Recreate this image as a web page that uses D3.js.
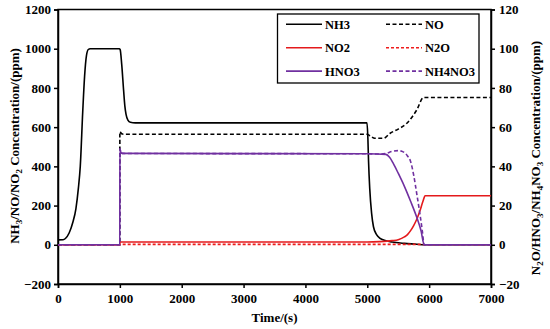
<!DOCTYPE html>
<html>
<head>
<meta charset="utf-8">
<script src="https://cdn.jsdelivr.net/npm/d3@7"></script>
<style>
  body { margin: 0; background: #fff; }
  text { font-family: "Liberation Serif", "Times New Roman", serif; font-weight: bold; }
</style>
</head>
<body>
<div id="chart"></div>
<script>
var width = 550;
var height = 329;

// time ticks and axis ticks
var xTicks = [0, 1000, 2000, 3000, 4000, 5000, 6000, 7000];
var leftTicks = [-200, 0, 200, 400, 600, 800, 1000, 1200];
var rightTicks = [-20, 0, 20, 40, 60, 80, 100, 120];

// series, [time (s), value]
// left axis (ppm)
var nh3 = [[0, 25], [80, 26], [120, 32], [180, 60], [240, 115], [290, 185], [330, 290], [360, 400], [400, 680],
  [430, 860], [460, 965], [490, 996], [520, 1000], [990, 1000], [1005, 995], [1030, 920], [1060, 790],
  [1080, 710], [1100, 665], [1130, 636], [1170, 625], [1250, 622], [4995, 622], [5010, 540], [5020, 430],
  [5040, 285], [5070, 160], [5100, 92], [5150, 52], [5200, 34], [5300, 21], [5400, 14], [5600, 7],
  [5800, 3], [5920, 0], [7000, 0]];
var no = [[0, 0], [999, 0], [1000, 577], [1030, 566], [1060, 564], [5000, 564], [5060, 552], [5120, 543],
  [5260, 543], [5370, 569], [5500, 590], [5640, 620], [5800, 688], [5910, 751], [7000, 751]];
var no2 = [[0, 0], [999, 0], [1000, 14], [5000, 14], [5200, 16], [5400, 21], [5500, 26], [5600, 40],
  [5650, 52], [5700, 72], [5750, 98], [5800, 130], [5850, 172], [5900, 222], [5935, 250], [7000, 250]];
// right axis (ppm)
var n2o = [[0, 0], [999, 0], [1000, 0.2], [5900, 0.2], [5920, 0], [7000, 0]];
var hno3 = [[0, 0], [999, 0], [1000, 49], [1015, 47.2], [1040, 46.6], [5000, 46.4], [5300, 46.1],
  [5360, 44.6], [5420, 41.5], [5500, 36.5], [5600, 29.8], [5700, 22.2], [5800, 14], [5870, 7],
  [5920, 0], [7000, 0]];
var nh4no3 = [[0, 0], [999, 0], [1000, 49], [1015, 47.2], [1040, 46.6], [5000, 46.4], [5200, 46.3],
  [5300, 46.6], [5400, 47.6], [5500, 48], [5580, 47.4], [5650, 45.3], [5700, 42.5], [5750, 35.5],
  [5800, 26], [5850, 16], [5890, 7], [5920, 0], [7000, 0]];

var margin = { left: 58, right: 491, top: 9.5, bottom: 284 };

var xScale = d3.scaleLinear().domain([0, 7000]).range([margin.left, margin.right]);
var yLeft = d3.scaleLinear().domain([-200, 1200]).range([margin.bottom, margin.top]);
var yRight = d3.scaleLinear().domain([-20, 120]).range([margin.bottom, margin.top]);

var svg = d3.select("#chart").append("svg")
  .attr("width", width)
  .attr("height", height);

// frame
svg.append("rect")
  .attr("x", margin.left)
  .attr("y", margin.top)
  .attr("width", margin.right - margin.left)
  .attr("height", margin.bottom - margin.top)
  .attr("fill", "none")
  .attr("stroke", "#000")
  .attr("stroke-width", 1.5);

function styleAxis(g) {
  g.select(".domain").attr("stroke-width", 1.5);
  g.selectAll(".tick line").attr("stroke-width", 1.5);
  g.selectAll(".tick text").attr("font-size", "13px").attr("fill", "#000")
    .attr("font-family", "Liberation Serif, Times New Roman, serif").attr("font-weight", "bold");
}

svg.append("g")
  .attr("transform", "translate(0," + margin.bottom + ")")
  .call(d3.axisBottom(xScale).tickValues(xTicks).tickSize(4).tickPadding(6).tickFormat(d3.format("d")))
  .call(styleAxis);

svg.append("g")
  .attr("transform", "translate(" + margin.left + ",0)")
  .call(d3.axisLeft(yLeft).tickValues(leftTicks).tickSize(4).tickPadding(3).tickFormat(d3.format("d")))
  .call(styleAxis);

svg.append("g")
  .attr("transform", "translate(" + margin.right + ",0)")
  .call(d3.axisRight(yRight).tickValues(rightTicks).tickSize(4).tickPadding(4).tickFormat(d3.format("d")))
  .call(styleAxis);

// lines
function lineFor(scale) {
  return d3.line()
    .x(function (d) { return xScale(d[0]); })
    .y(function (d) { return scale(d[1]); })
    .curve(d3.curveMonotoneX);
}

var series = [
  { data: nh3, scale: yLeft, color: "#000000", dash: null },
  { data: no, scale: yLeft, color: "#000000", dash: "4,2.5" },
  { data: no2, scale: yLeft, color: "#e41a1c", dash: null },
  { data: n2o, scale: yRight, color: "#ee1c1c", dash: "3,2" },
  { data: hno3, scale: yRight, color: "#7030a0", dash: null },
  { data: nh4no3, scale: yRight, color: "#7030a0", dash: "4,2.5" }
];

series.forEach(function (s) {
  svg.append("path")
    .datum(s.data)
    .attr("fill", "none")
    .attr("stroke", s.color)
    .attr("stroke-width", 1.6)
    .attr("stroke-dasharray", s.dash)
    .attr("d", lineFor(s.scale));
});

// legend
var legend = svg.append("g");
legend.append("rect")
  .attr("x", 277.5).attr("y", 14)
  .attr("width", 201.5).attr("height", 69)
  .attr("fill", "#fff").attr("stroke", "#000").attr("stroke-width", 1.3);

var legendItems = [
  { name: "NH3", color: "#000000", dash: null, col: 0, row: 0 },
  { name: "NO", color: "#000000", dash: "4,2.5", col: 1, row: 0 },
  { name: "NO2", color: "#e41a1c", dash: null, col: 0, row: 1 },
  { name: "N2O", color: "#ee1c1c", dash: "3,2", col: 1, row: 1 },
  { name: "HNO3", color: "#7030a0", dash: null, col: 0, row: 2 },
  { name: "NH4NO3", color: "#7030a0", dash: "4,2.5", col: 1, row: 2 }
];
legendItems.forEach(function (d) {
  var x0 = d.col === 0 ? 286 : 386;
  var y0 = 24.3 + d.row * 23.4;
  legend.append("line")
    .attr("x1", x0).attr("x2", x0 + 36)
    .attr("y1", y0).attr("y2", y0)
    .attr("stroke", d.color).attr("stroke-width", 1.6)
    .attr("stroke-dasharray", d.dash);
  legend.append("text")
    .attr("x", x0 + 39).attr("y", y0 + 4.5)
    .attr("font-size", "12.5px")
    .text(d.name);
});

// axis labels
svg.append("text")
  .attr("x", (margin.left + margin.right) / 2)
  .attr("y", 322)
  .attr("text-anchor", "middle")
  .attr("font-size", "13px")
  .text("Time/(s)");

var leftLabel = svg.append("text")
  .attr("transform", "translate(19," + 146 + ") rotate(-90)")
  .attr("text-anchor", "middle")
  .attr("font-size", "13px");
leftLabel.append("tspan").text("NH");
leftLabel.append("tspan").attr("dy", 3).attr("font-size", "9px").text("3");
leftLabel.append("tspan").attr("dy", -3).text("/NO/NO");
leftLabel.append("tspan").attr("dy", 3).attr("font-size", "9px").text("2");
leftLabel.append("tspan").attr("dy", -3).text(" Concentration/(ppm)");

var rightLabel = svg.append("text")
  .attr("transform", "translate(540," + 158 + ") rotate(-90)")
  .attr("text-anchor", "middle")
  .attr("font-size", "13px");
rightLabel.append("tspan").text("N");
rightLabel.append("tspan").attr("dy", 3).attr("font-size", "9px").text("2");
rightLabel.append("tspan").attr("dy", -3).text("O/HNO");
rightLabel.append("tspan").attr("dy", 3).attr("font-size", "9px").text("3");
rightLabel.append("tspan").attr("dy", -3).text("/NH");
rightLabel.append("tspan").attr("dy", 3).attr("font-size", "9px").text("4");
rightLabel.append("tspan").attr("dy", -3).text("NO");
rightLabel.append("tspan").attr("dy", 3).attr("font-size", "9px").text("3");
rightLabel.append("tspan").attr("dy", -3).text(" Concentration/(ppm)");
</script>
</body>
</html>
